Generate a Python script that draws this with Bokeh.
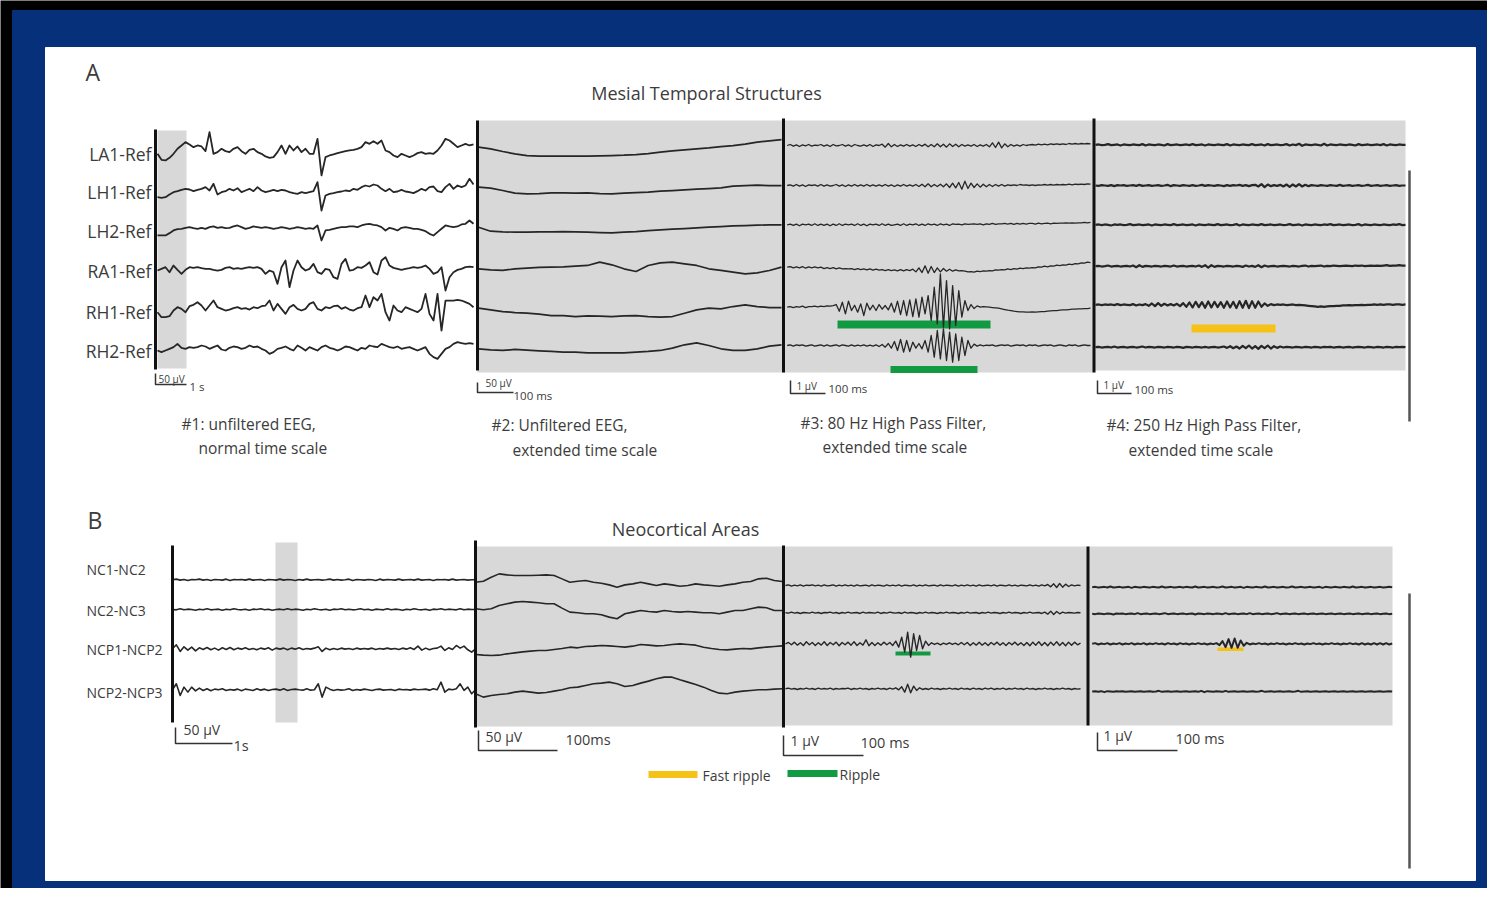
import numpy as np
from bokeh.plotting import figure
from bokeh.models import Range1d
from bokeh.embed import file_html
from bokeh.resources import INLINE
from bokeh.core.properties import value

# ------------------------------------------------------------------ data
A_channels = ["LA1-Ref", "LH1-Ref", "LH2-Ref", "RA1-Ref", "RH1-Ref", "RH2-Ref"]
B_channels = ["NC1-NC2", "NC2-NC3", "NCP1-NCP2", "NCP2-NCP3"]
A_captions = [["#1: unfiltered EEG,", "normal time scale"],
              ["#2: Unfiltered EEG,", "extended time scale"],
              ["#3: 80 Hz High Pass Filter,", "extended time scale"],
              ["#4: 250 Hz High Pass Filter,", "extended time scale"]]
A_scale_v = ["50 µV", "50 µV", "1 µV", "1 µV"]
A_scale_t = ["1 s", "100 ms", "100 ms", "100 ms"]
B_scale_v = ["50 µV", "50 µV", "1 µV", "1 µV"]
B_scale_t = ["1s", "100ms", "100 ms", "100 ms"]
legend_labels = ["Fast ripple", "Ripple"]

# Panel A #1 : unfiltered EEG, normal time scale (deflection, arbitrary units)
A1_LA1 = [0,-18,-20,-12,0,15,25,35,28,20, 25,22,8,65,0,5,15,8,5,15,
          20,8,0,12,15,5,0,-8,-12,-10, 5,25,0,25,10,22,5,15,0,0,
          45,-65,-10,-5,-2,2,5,8,10,12, 15,20,35,30,38,30,40,10,5,-5,
          -10,0,-5,-10,-5,2,5,0,2,0, 10,25,45,40,30,20,25,30,25,28]
A1_LH1 = [-5,-7,-5,3,10,13,17,20,18,13, 17,20,25,15,35,3,10,13,20,15,
          22,10,15,20,13,25,15,10,13,17, 13,17,15,10,7,5,10,7,10,13,
          40,-45,0,5,7,10,12,15,13,20, 17,25,30,27,33,30,20,13,20,10,
          12,17,12,10,7,13,20,15,25,27, 13,10,25,35,20,30,25,30,50,33]
A1_LH2 = [-5,-5,-5,2,10,14,15,18,20,17, 15,18,15,20,22,18,20,17,18,22,
          25,20,15,18,22,20,18,20,18,15, 17,20,18,15,17,20,18,15,17,15,
          25,-20,10,12,15,18,20,20,22,22, 20,25,28,30,27,25,20,10,18,15,
          10,18,20,18,15,15,12,8,0,-5, 5,15,25,22,20,22,28,30,40,30]
A1_RA1 = [5,10,15,0,20,7,-5,7,15,13, 15,12,10,10,7,5,7,13,15,10,
          12,10,13,15,13,15,10,-5,5,0, -35,15,35,-45,5,35,15,5,10,25,
          0,-5,10,7,-15,-20,25,40,5,7, 15,13,20,30,0,-7,35,45,20,13,
          10,7,10,12,15,13,15,20,10,-5, 0,15,-55,-15,0,7,10,15,17,15]
A1_RH1 = [0,-15,-15,-12,5,15,10,0,18,22, 30,20,5,20,35,15,10,5,8,12,
          15,10,12,8,15,12,18,20,35,5, 25,10,-5,15,22,10,5,10,25,30,
          10,5,15,12,18,20,10,15,8,5, 12,15,50,15,45,35,55,0,-25,20,
          5,0,15,10,5,0,10,55,-5,-25, 55,-55,35,35,35,37,35,30,25,15]
A1_RH2 = [0,-5,0,5,10,20,8,5,10,8, 10,15,12,5,10,15,3,0,8,12,
          10,5,8,15,10,12,5,0,-10,-5, 5,8,12,5,0,15,8,0,10,5,
          0,10,15,8,5,0,5,12,10,5, 0,8,5,15,12,10,20,15,10,8,
          12,5,8,10,5,0,5,10,-10,-20, -25,-10,5,10,20,25,22,20,22,20]

# Panel A #2 : unfiltered EEG, extended time scale
A2_LA1 = [0,-5,-13,-20,-25,-27,-27,-27,-27,-27,-26,-25,-24,-22,-19,-15,-11,-8,-5,-2,2,5,9,15,19,23]
A2_LH1 = [0,-3,-10,-18,-20,-19,-17,-17,-18,-17,-19,-20,-18,-16,-15,-12,-10,-8,-6,-4,-2,3,5,6,5,5]
A2_LH2 = [0,-12,-14,-15,-15,-14,-14,-13,-14,-15,-16,-17,-15,-13,-10,-8,-6,-4,-2,0,2,4,5,6,7,7]
A2_RA1 = [0,-3,-5,0,2,4,5,6,8,10,20,12,0,-8,10,18,20,15,10,0,-5,-10,-15,-12,-5,5]
A2_RH1 = [0,-5,-10,-13,-15,-18,-22,-22,-25,-23,-24,-25,-23,-22,-25,-27,-25,-15,-5,0,-2,5,10,5,2,2]
A2_RH2 = [0,-3,-5,-2,-4,-6,-8,-10,-10,-12,-12,-12,-12,-10,-8,-5,2,12,18,10,0,-5,-5,0,8,12]

# Panel A #3 : 80 Hz high pass
A3_LA1 = [0,3,-2,2,-3,2,-1,3,-2,1, 0,3,-2,2,-3,3,-1,0,3,-2, 2,-3,3,0,-2,2,-2,3,-3,2,
          0,4,-5,6,-4,3,-3,2,-2,3, -2,2,-3,3,-2,4,-4,3,-4,5, -4,4,-5,5,-3,4,-4,3,-2,2,
          -2,3,-3,2,-2,3,-4,8,-6,10, -7,5,-4,3,-2,2,-2,3,0,2, 3,1,4,2,4,2,5,3,5,3,
          5,3,6,4,6,4,6,5,6,5]
A3_LH1 = [0,2,-2,3,-2,2,-3,2,0,2, -2,3,-2,2,-2,0,3,-2,2,-3, 2,-2,3,-2,2,-2,3,-2,2,-2,
          2,-2,3,-2,2,-3,2,-2,3,-2, 2,-2,3,-3,4,-4,5,-4,3,-3, 4,-4,5,-6,7,-7,9,-11,13,-9,
          7,-6,5,-5,4,-4,3,-3,3,-2, 3,-2,2,0,2,0,3,1,2,0, 2,0,2,1,3,1,3,1,3,2,
          3,2,4,2,4,3,4,3,5,4]
A3_LH2 = [0,2,-2,2,-3,2,0,2,-2,3, -2,2,-2,2,-3,2,-2,3,-2,2, 0,2,-2,3,-2,2,-3,2,0,2,
          -2,3,-2,2,-2,0,2,-2,3,-2, 2,0,3,-2,2,-2,3,0,2,-2, 3,0,2,-2,3,1,2,0,3,1,
          2,3,1,3,0,3,1,4,1,3, 3,4,2,4,1,4,2,4,2,4, 4,2,5,3,4,5,3,5,4,5,
          5,6,5,6,5,6,6,7,6,7]
A3_RA1 = [0,2,-2,1,-2,2,-3,1,-2,1, -2,0,-4,-1,-4,-1,-5,-2,-5,-4, -5,-4,-7,-4,-7,-5,-8,-5,-9,-6,
          -9,-7,-10,-7,-10,-8,-11,-7,-11,-7, -10,-6,-14,-2,-16,4,-18,2,-16,-2,
          -14,-4,-12,-6,-12,-8,-11,-10,-12,-14, -13,-15,-12,-13,-11,-12,-10,-11,-8,-9,
          -7,-8,-5,-7,-4,-6,-3,-4,-2,-3, -1,-2,1,0,3,1,4,3,6,5, 7,6,9,8,11,10,13,12,15,14]
A3_RH1 = [0,2,-1,2,0,3,-1,2,2,3, 1,3,2,4,3,5,8,-12,15,-20, 18,-10,6,-15,10,-25,12,-8,6,-10,
          8,-6,5,-8,12,-15,18,-22,20,-25, 22,-28,25,-30,30,-20,35,-40,60,-50,
          100,-60,80,-65,65,-55,50,-30,20,-10, 8,-4,4,0,2,1,0,-1,-2,-3,
          -5,-7,-9,-10,-12,-13,-14,-14,-15,-15, -14,-15,-14,-13,-13,-12,-11,-10,-10,-9,
          -8,-8,-7,-6,-6,-5,-5,-4,-4,-3]
A3_RH2 = [0,2,-2,2,0,2,-2,0,2,-2, 0,2,-2,2,-2,0,2,-2,2,0, -2,2,-2,1,-1,2,-2,1,-2,2,
          -3,3,-5,6,-8,12,-15,18,-20,15, -18,10,-8,6,-10,15,-20,30,-35,45,
          -40,50,-45,40,-50,35,-45,25,-30,15, -8,4,-2,2,-1,1,0,2,-2,0,
          2,0,2,-2,0,2,0,2,-2,2, 0,2,-2,0,2,0,2,-2,0,2, 0,-2,2,0,2,-2,0,2,0,0]

# Panel A #4 : 250 Hz high pass
A4_LA1 = [0,1,-1,0,2,-1,0,1,-2,1, 0,-1,1,0,-1,2,-2,1,0,-1, 1,0,-2,2,-1,0,1,-1,0,1,
          -1,2,-1,0,1,-2,1,0,-1,1, 0,-1,2,-2,1,0,-1,1,0,-1, 2,-1,0,1,-2,2,-1,0,1,-1,
          0,2,-2,1,-1,3,-3,1,0,-1, 1,0,-2,3,-2,1,0,-1,1,0, -1,1,0,-2,2,-1,0,1,-1,0,
          1,-1,2,-2,1,0,-1,1,0,0]
A4_LH1 = [0,-1,1,0,-1,1,-2,1,0,1, -1,0,1,-1,2,-1,0,1,-1,0, 1,-1,0,2,-2,1,0,-1,1,0,
          -1,1,-1,0,2,-1,1,0,-1,1, 0,-2,1,-1,1,0,2,-1,1,-2, 1,2,-3,4,-5,3,-2,1,-1,2,
          -3,3,-4,3,-3,4,-3,2,-2,1, 0,-1,1,0,-1,1,0,-1,2,-1, 0,1,-1,0,1,-1,0,2,-1,0,
          1,-1,0,1,-1,0,1,-1,0,0]
A4_LH2 = [0,1,-1,1,0,-2,1,0,1,-1, 0,2,-1,0,1,-1,0,1,-2,1, 0,-1,1,0,-1,2,-1,0,1,-1,
          0,1,-2,1,0,-1,1,0,-1,2, -1,0,1,-1,0,2,-2,1,0,-1, 1,0,-1,2,-1,0,1,-1,0,1,
          -1,0,2,-1,0,1,-2,1,0,-1, 1,0,-1,1,0,2,-1,0,1,-1, 0,1,-1,0,2,-2,1,0,-1,1,
          0,-1,1,0,-1,1,0,2,-1,0]
A4_RA1 = [0,1,-1,0,2,-1,0,1,-1,0, 1,-1,2,-3,3,-2,1,0,-1,1, 0,-1,1,0,-1,2,-1,0,1,-1,
          0,1,-1,2,-2,3,-4,3,-2,1, 0,-1,1,0,-1,1,0,-2,2,-1, 1,-2,3,-3,2,-1,0,1,-1,0,
          1,0,-1,1,0,-1,1,2,-1,1, 0,1,2,-1,1,0,2,1,0,1, 2,1,0,2,1,2,0,1,2,1,
          2,1,2,3,1,2,2,3,2,2]
A4_RH1 = [0,1,-1,1,0,1,-1,2,-1,1, 0,-1,2,-2,1,-1,2,-3,4,-4, 5,-3,3,-2,2,-2,3,-4,5,-6,
          7,-8,9,-7,8,-9,10,-8,9,-7, 8,-9,10,-8,9,-10,11,-9,12,-10, 11,-9,10,-6,4,-3,2,-1,1,0,
          1,-1,0,1,-1,0,-1,-2,-3,-4, -5,-6,-5,-6,-5,-4,-4,-3,-3,-2, -2,-1,-2,-1,-1,0,-1,0,0,1,
          0,1,0,1,1,0,1,1,0,1]
A4_RH2 = [0,1,-1,0,1,-1,2,-1,0,1, -1,0,1,-1,0,2,-1,1,0,-1, 1,0,-1,1,0,-1,1,0,-2,1,
          0,-1,1,0,-1,1,-1,0,1,-1, 0,2,-2,3,-3,2,-4,4,-3,5, -4,3,-5,4,-3,5,-4,3,-2,2,
          -1,1,0,-1,1,0,-1,1,0,-1, 1,0,-1,1,0,1,-1,0,1,-1, 0,1,-1,0,1,0,-1,1,0,-1,
          1,0,-1,1,0,-1,1,0,1,0]

# Panel B #1 : unfiltered EEG, normal time scale
B1_NC1 = [0,2,-1,1,-2,1,0,2,-1,1, -2,1,0,-1,2,-2,1,0,1,-1, 2,-1,0,1,-2,1,0,-1,2,-1,
          1,0,-2,1,-1,2,-1,0,1,-1, 0,2,-1,1,-1,0,2,-2,1,0, -1,1,0,-2,2,-1,1,0,-1,2,
          -1,0,1,-1,2,-1,0,1,-2,1, 0,1,-1,2,-1,0,1,-1,0,0]
B1_NC2 = [0,-1,2,-1,1,0,-2,1,-1,2, -1,0,1,-2,1,-1,2,0,-1,1, -2,1,0,2,-1,1,-2,0,1,-1,
          2,-1,1,0,-2,1,-1,2,0,-1, 1,-2,1,0,2,-1,1,-1,0,2, -1,1,-2,1,0,-1,2,-1,1,0,
          -2,1,-1,2,0,-1,1,-2,1,0, 2,-1,1,0,-1,2,-1,1,0,0]
B1_NCP1 = [0,12,-8,6,-4,5,-6,3,-2,4, -3,2,-4,3,-2,4,-3,2,-1,3, -2,1,-3,2,-1,3,-4,2,-1,2,
           -3,2,-1,3,-2,1,-1,2,6,-8, 2,-3,1,-2,2,-1,1,-2,2,-1, 1,-1,2,-2,1,-1,2,-1,1,-2,
           2,-1,3,-2,8,-4,2,-3,1,2, 8,-5,3,-2,10,2,8,-3,-10,0]
B1_NCP2 = [0,18,-17,8,-7,8,-3,5,-2,3, -3,2,0,3,-2,1,-1,2,-3,2, 0,-2,3,-1,2,-2,1,2,-1,3,
           -2,1,2,0,-1,3,-1,0,18,-22, 8,2,-2,1,-1,0,3,-2,1,-1, 2,0,-2,1,2,-1,0,1,-2,2,
           0,1,-1,2,0,1,2,-1,3,0, 23,-7,2,0,3,18,-2,8,-12,0]

# Panel B #2 : unfiltered EEG, extended time scale
B2_NC1 = [0,3,15,25,22,20,20,20,21,22, 20,10,0,3,5,0,-3,-8,-15,-8, -5,0,-5,-10,-5,-8,-12,-10,-5,-8,
          -10,-12,-8,-5,0,2,10,12,5,2]
B2_NC2 = [0,-3,0,10,15,20,22,20,18,15, 15,2,-10,-12,-15,-15,-18,-25,-30,-15, -10,-5,-8,-10,-5,-8,-10,-8,-10,-12,
          -12,-15,-10,-5,-5,0,5,3,-5,-5]
B2_NCP1 = [0,-2,-3,-2,2,5,8,10,12,12, 15,18,22,20,24,25,27,26,24,22, 25,30,28,26,27,30,32,30,28,22,
           18,15,14,16,18,17,20,22,24,26]
B2_NCP2 = [0,-10,-5,-2,0,5,8,5,2,4, 8,12,18,20,25,30,32,35,30,22, 25,32,38,45,50,50,42,35,28,20,
           10,2,0,5,8,10,12,12,14,15]

# Panel B #3 : 80 Hz high pass
B3_NC1 = [0,2,-2,1,-1,2,-2,1,0,2, -1,1,-2,2,-1,0,2,-2,1,-1, 2,-1,1,-2,2,-1,0,1,-2,2,
          -1,1,0,-2,2,-1,1,-1,2,-2, 1,0,-1,2,-2,1,-1,2,-1,0, 1,-2,2,-1,1,0,-1,2,-2,1,
          -1,2,-1,1,-2,2,-1,0,1,-1, 2,-2,1,0,-1,2,-1,1,-2,1, 0,-1,2,-1,1,-2,2,-1,3,-4,
          5,-6,6,-5,4,-3,2,-1,1,0]
B3_NC2 = [0,-1,2,-1,1,-2,1,0,-1,2, -1,1,-2,1,0,2,-1,1,-2,1, -1,2,-1,0,1,-2,2,-1,1,0,
          -1,2,-2,1,-1,2,0,-1,1,-2, 2,-1,1,0,-2,1,-1,2,-1,1, 0,-2,1,-1,2,-1,1,0,-2,1,
          -1,2,-1,0,1,-2,1,-1,2,-1, 1,0,-2,1,-1,2,-1,1,0,-2, 1,-1,2,-1,0,1,-2,2,-4,5,
          -5,4,-3,2,-1,1,0,-1,1,0]
B3_NCP1 = [0,4,-3,5,-4,3,-5,6,-3,4, -5,3,-4,6,-5,4,-3,5,-6,4, -3,5,-4,6,-5,3,-4,12,-6,4,
           -5,3,-4,5,-3,4,-5,8,-10,20, -25,35,-40,30,-20,25,-15,8,-5,3, -2,2,-3,2,-2,3,-2,2,-3,4,
           -3,4,-5,3,-4,5,-4,3,-5,4, -3,5,-4,3,-5,4,-3,5,-4,3, -5,4,-6,5,-4,6,-5,4,-6,5,
           -4,6,-5,4,-6,5,-4,5,-3,2]
B3_NCP2 = [0,2,-1,1,-2,1,-1,2,-1,1, -2,2,-1,1,-1,2,-2,1,-1,1, 0,2,-2,1,-1,2,-1,1,-2,1,
           -1,2,-1,1,-2,2,-1,3,-3,6, -10,14,-12,8,-5,3,-2,1,-2,2, -1,1,-2,1,-1,2,-1,1,-2,2,
           -1,1,-2,2,-1,1,-2,2,-1,2, -2,1,-1,2,-2,1,-1,2,-1,1, -2,2,-1,1,-2,1,-1,2,-1,1,
           -2,1,-1,2,-1,1,-2,1,-1,0]

# Panel B #4 : 250 Hz high pass
B4_NC1 = [0,1,-1,0,1,-1,2,-1,0,1, -1,0,1,-2,1,0,-1,1,0,-1, 1,0,-1,2,-1,0,1,-1,0,1,
          -1,1,0,-1,2,-1,0,1,-1,0, 1,-1,0,2,-1,0,1,-1,0,1, -2,1,0,-1,1,0,-1,2,-1,0,
          1,-1,0,1,-1,0,2,-1,0,1, -1,0,1,-1,0,1,-2,1,0,-1, 1,0,-1,1,0,-1,2,-1,0,1,
          -1,0,1,-1,0,1,-1,0,1,0]
B4_NC2 = [0,-1,1,0,-1,1,0,-2,1,0, 1,-1,0,1,-1,2,-1,0,1,-1, 0,1,-1,0,2,-1,0,1,-1,0,
          1,-1,0,1,-2,1,0,-1,1,0, -1,1,0,-1,2,-1,0,1,-1,0, 1,-1,2,-1,0,1,-1,0,1,-1,
          0,2,-1,0,1,-1,0,1,-1,0, 1,-1,0,1,-1,0,1,-1,0,1, -1,0,1,-1,0,1,-1,0,1,-1,
          0,1,-1,0,1,-1,0,1,-1,0]
B4_NCP1 = [0,2,-2,1,-1,2,-2,1,-1,2, -2,1,-1,2,-2,1,-1,2,-2,1, -1,2,-1,1,-2,2,-1,1,-2,2,
           -1,1,-2,1,-1,2,-1,1,-2,1, -1,2,-4,8,-10,14,-12,16,-12,10, -6,3,-2,1,-1,2,-1,1,-2,1,
           -1,2,-1,1,-2,1,-1,2,-1,1, -2,1,-1,2,-1,1,-2,1,-1,2, -1,1,-2,1,-1,2,-1,1,-2,2,
           -2,1,-2,2,-2,2,-2,2,-2,1]
B4_NCP2 = [0,1,-1,1,-2,1,0,-1,1,0, 1,-1,0,1,-1,0,1,-1,0,1, -1,0,2,-1,0,1,-1,0,1,-1,
           0,1,-1,0,1,-1,2,-2,1,0, -1,1,0,-1,2,-1,0,1,-1,0, 1,-1,0,1,-1,0,2,-1,0,1,
           -1,0,1,-1,0,1,-1,0,2,-1, 0,1,-1,0,1,-1,0,1,-1,0, 1,-1,0,1,-1,0,1,-1,0,1,
           -1,0,1,-1,0,1,-1,0,1,0]

A_panels = [[A1_LA1, A1_LH1, A1_LH2, A1_RA1, A1_RH1, A1_RH2],
            [A2_LA1, A2_LH1, A2_LH2, A2_RA1, A2_RH1, A2_RH2],
            [A3_LA1, A3_LH1, A3_LH2, A3_RA1, A3_RH1, A3_RH2],
            [A4_LA1, A4_LH1, A4_LH2, A4_RA1, A4_RH1, A4_RH2]]
B_panels = [[B1_NC1, B1_NC2, B1_NCP1, B1_NCP2],
            [B2_NC1, B2_NC2, B2_NCP1, B2_NCP2],
            [B3_NC1, B3_NC2, B3_NCP1, B3_NCP2],
            [B4_NC1, B4_NC2, B4_NCP1, B4_NCP2]]

# ------------------------------------------------------------------ layout
NAVY = "#06307a"
GREY = "#d8d8d8"
INK = "#262626"
TXT = "#3c3c3c"
GREEN = "#129a42"
YELLOW = "#f6c218"
FONT = value("Open Sans")

p = figure(width=1487, height=888, x_range=Range1d(0, 1487), y_range=Range1d(888, 0),
           output_backend="svg", toolbar_location=None, min_border=0)
p.axis.visible = False
p.grid.visible = False
p.outline_line_color = None
p.background_fill_color = "#000000"
p.border_fill_color = "#000000"

# frame
p.quad(left=[12], right=[1490], top=[10], bottom=[895], color=NAVY)
p.quad(left=[45], right=[1475], top=[47], bottom=[880], color="#ffffff")

# grey panel backgrounds
p.quad(left=[477, 783, 1093, 475, 783, 1087], right=[783, 1093, 1405, 783, 1087, 1392],
       top=[120, 120, 120, 546, 546, 546], bottom=[372, 372, 370, 726, 725, 725],
       color=GREY, line_color=None)
# highlighted windows in the normal-time-scale panels
p.quad(left=[157, 275], right=[186, 297], top=[130, 542], bottom=[368, 722], color=GREY, line_color=None)

# ripple / fast-ripple marks
p.quad(left=[837, 890, 895], right=[990, 977, 930], top=[320, 365.5, 651], bottom=[328, 372.5, 655],
       color=GREEN, line_color=None)
p.quad(left=[1191, 1217], right=[1275, 1243], top=[324, 647], bottom=[332, 650.5],
       color=YELLOW, line_color=None)

# traces
A_geom = [(157, 473, [153.3, 195, 233.3, 271.7, 311.7, 350], 1.8),
          (478, 781, [146.7, 186.7, 226.7, 268.3, 307.7, 348.3], 1.7),
          (786.7, 1090, [145, 185, 224.3, 266.7, 306.7, 345], 1.3),
          (1095, 1405, [144.3, 185, 224.3, 265.7, 304.3, 346.7], 2.2)]
B_geom = [(172, 475, [579.3, 609, 648.3, 689.3], 1.6),
          (475, 781.7, [581.7, 608.3, 654, 693.3], 1.6),
          (785, 1080, [585, 612.3, 643.3, 688.3], 1.4),
          (1091.7, 1391.7, [586.7, 613.3, 643.3, 691], 2.0)]
GAIN = 1.0 / 3.0

def draw_panel(traces, geom):
    x0, x1, bases, lw = geom
    xs, ys = [], []
    for vals, base in zip(traces, bases):
        v = np.asarray(vals, dtype=float)
        xs.append(np.linspace(x0, x1, len(v)))
        ys.append(base - GAIN * v)
    p.multi_line(xs, ys, line_color=INK, line_width=lw, line_join="round")

for tr, g in zip(A_panels, A_geom):
    draw_panel(tr, g)
for tr, g in zip(B_panels, B_geom):
    draw_panel(tr, g)

# panel separator lines
p.segment(x0=[155, 477, 783, 1093.5, 172, 475, 783, 1087.5],
          y0=[129, 120, 118, 118, 545, 540, 545, 546],
          x1=[155, 477, 783, 1093.5, 172, 475, 783, 1087.5],
          y1=[369, 370, 372, 372, 722, 727, 727, 725],
          line_color="#111111", line_width=3)
p.segment(x0=[1409, 1409], y0=[170, 593], x1=[1409, 1409], y1=[421, 868],
          line_color="#555555", line_width=2.5)

# scale bars
sb_x = [[155, 155, 186], [477, 477, 513], [790, 790, 825], [1097, 1097, 1131],
        [175, 175, 232], [478, 478, 557], [783, 783, 863], [1097, 1097, 1177]]
sb_y = [[373, 384, 384], [382, 392, 392], [380, 393, 393], [380, 393, 393],
        [727, 743, 743], [730, 750, 750], [735, 755, 755], [732, 750, 750]]
p.multi_line(sb_x, sb_y, line_color="#333333", line_width=1.5)

# channel labels
p.text(x=[151] * 6, y=[153.3, 191.7, 230, 270, 311.7, 350], text=A_channels,
       text_font=FONT, text_font_size="17.5px", text_color=TXT,
       text_align="right", text_baseline="middle")
p.text(x=[86] * 4, y=[568.5, 610, 649, 692], text=B_channels,
       text_font=FONT, text_font_size="14px", text_color=TXT,
       text_align="left", text_baseline="middle")

# panel letters and titles
p.text(x=[85, 87], y=[71, 519], text=["A", "B"], text_font=FONT, text_font_size="23px",
       text_color=TXT, text_baseline="middle")
p.text(x=[706, 685], y=[92, 528], text=["Mesial Temporal Structures", "Neocortical Areas"],
       text_font=FONT, text_font_size="18px", text_color=TXT, text_align="center",
       text_baseline="middle")

# captions
cap_x1 = [181, 491, 800, 1106]
cap_x2 = [198, 512, 822, 1128]
p.text(x=cap_x1, y=[423, 424, 422, 424], text=[c[0] for c in A_captions],
       text_font=FONT, text_font_size="15.5px", text_color=TXT, text_baseline="middle")
p.text(x=cap_x2, y=[447, 449, 446, 449], text=[c[1] for c in A_captions],
       text_font=FONT, text_font_size="15.5px", text_color=TXT, text_baseline="middle")

# scale bar labels (panel A: small)
p.text(x=[158, 485, 796, 1103], y=[378, 382, 385, 384], text=A_scale_v,
       text_font=FONT, text_font_size="10px", text_color=TXT, text_baseline="middle")
p.text(x=[189, 513, 828, 1134], y=[386, 395, 388, 389], text=A_scale_t,
       text_font=FONT, text_font_size="11.5px", text_color=TXT, text_baseline="middle")
# panel B scale labels
p.text(x=[183, 485, 790, 1103], y=[729, 736, 740, 735], text=B_scale_v,
       text_font=FONT, text_font_size="14px", text_color=TXT, text_baseline="middle")
p.text(x=[233, 565, 860, 1175], y=[745, 739, 742, 738], text=B_scale_t,
       text_font=FONT, text_font_size="14.5px", text_color=TXT, text_baseline="middle")

# legend
p.segment(x0=[648, 787], y0=[774, 773], x1=[697, 837], y1=[774, 773],
          line_color=[YELLOW, GREEN], line_width=7)
p.text(x=[702, 839], y=[775, 774], text=legend_labels, text_font=FONT,
       text_font_size="14px", text_color=TXT, text_baseline="middle")

open("out.html", "w").write(file_html(p, INLINE))
